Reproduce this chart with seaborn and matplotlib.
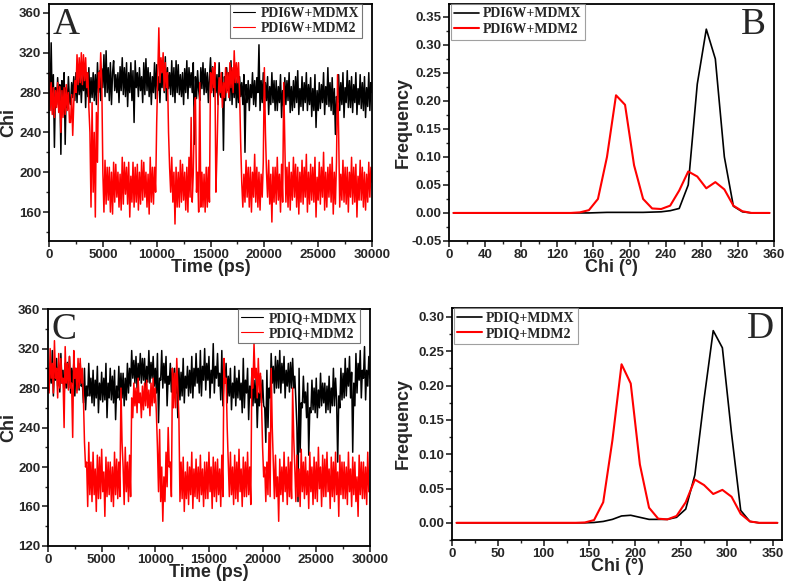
import numpy as np
import pandas as pd
import matplotlib
matplotlib.use("Agg")
import matplotlib.pyplot as plt
import seaborn as sns
from matplotlib.ticker import MultipleLocator

# time axis of the trajectories (ps), one reading every 100 ps
time_ps = np.arange(0, 30001, 100)

# Panel A: PDI6W chi angle traces (one row = 1000 ps)
a_mdmx = [
    290, 275, 330, 262, 298, 225, 285, 268, 295, 272,
    288, 218, 292, 270, 300, 228, 285, 265, 296, 272,
    268, 290, 275, 296, 272, 300, 270, 302, 278, 298,
    270, 298, 282, 305, 265, 300, 276, 305, 270, 295,
    275, 300, 272, 298, 268, 310, 280, 302, 272, 304,
    285, 318, 276, 322, 280, 305, 272, 310, 268, 300,
    312, 282, 298, 280, 300, 270, 306, 282, 315, 278,
    305, 276, 310, 266, 300, 280, 310, 272, 302, 250,
    312, 285, 300, 276, 305, 282, 296, 270, 310, 278,
    314, 282, 305, 276, 300, 268, 296, 280, 310, 274,
    308, 282, 296, 270, 300, 285, 310, 280, 316, 272,
    305, 284, 300, 278, 312, 276, 305, 270, 312, 280,
    308, 278, 298, 276, 300, 268, 304, 280, 312, 274,
    305, 285, 300, 280, 310, 228, 296, 274, 302, 282,
    272, 305, 284, 310, 278, 304, 280, 300, 270, 296,
    315, 282, 306, 276, 300, 280, 298, 268, 310, 278,
    275, 300, 222, 296, 272, 305, 282, 300, 272, 312,
    268, 298, 275, 300, 265, 294, 270, 296, 276, 290,
    268, 298, 220, 288, 270, 292, 262, 288, 275, 300,
    268, 292, 266, 295, 280, 328, 262, 292, 270, 300,
    265, 290, 272, 296, 258, 286, 268, 300, 270, 292,
    262, 292, 262, 286, 270, 298, 255, 282, 266, 295,
    268, 292, 272, 300, 260, 286, 262, 292, 265, 296,
    270, 302, 258, 284, 266, 296, 262, 290, 270, 300,
    262, 288, 268, 295, 256, 284, 262, 298, 245, 282,
    262, 290, 264, 288, 270, 300, 258, 286, 268, 305,
    266, 290, 262, 295, 258, 284, 238, 276, 270, 298,
    262, 290, 268, 300, 255, 285, 270, 302, 265, 292,
    265, 296, 260, 288, 270, 300, 258, 284, 268, 298,
    264, 290, 262, 296, 255, 285, 266, 300, 262, 290,
    280,
]
a_mdm2 = [
    300, 262, 290, 258, 285, 255, 282, 265, 290, 260,
    286, 240, 282, 255, 285, 258, 288, 262, 280, 250,
    250, 278, 237, 270, 292, 280, 318, 288, 315, 290,
    320, 288, 318, 292, 315, 285, 300, 265, 240, 165,
    270, 180, 240, 155, 260, 210, 300, 285, 320, 290,
    200, 160, 212, 168, 205, 172, 205, 160, 200, 158,
    210, 170, 208, 175, 200, 165, 198, 162, 215, 168,
    210, 178, 205, 168, 210, 155, 196, 170, 210, 165,
    205, 170, 208, 162, 200, 168, 212, 172, 210, 175,
    200, 165, 198, 158, 215, 170, 205, 168, 205, 180,
    250, 300, 345, 290, 315, 300, 320, 282, 310, 285,
    300, 240, 205, 180, 215, 170, 200, 148, 205, 165,
    200, 165, 212, 170, 208, 172, 200, 162, 205, 160,
    215, 175, 255, 170, 200, 265, 275, 180, 200, 160,
    290, 165, 200, 165, 198, 160, 205, 165, 205, 170,
    300, 280, 305, 285, 310, 180, 220, 270, 295, 280,
    300, 265, 290, 275, 305, 280, 300, 275, 310, 285,
    305, 280, 322, 290, 310, 290, 310, 280, 230, 190,
    165, 198, 170, 212, 175, 205, 165, 205, 160, 200,
    175, 218, 170, 205, 165, 200, 162, 198, 175, 210,
    305, 240, 200, 175, 212, 168, 198, 150, 205, 170,
    205, 168, 215, 172, 198, 160, 208, 170, 290, 230,
    170, 205, 165, 210, 162, 200, 172, 215, 175, 208,
    165, 205, 158, 200, 170, 212, 168, 205, 175, 218,
    160, 200, 168, 208, 172, 205, 170, 215, 155, 195,
    172, 210, 168, 205, 175, 220, 162, 200, 165, 205,
    175, 208, 170, 215, 158, 200, 168, 210, 298, 240,
    165, 198, 172, 212, 170, 205, 168, 205, 160, 200,
    175, 215, 168, 205, 170, 208, 155, 196, 172, 212,
    172, 205, 165, 200, 162, 198, 170, 210, 175, 205,
    190,
]

# Panel C: PDIQ chi angle traces
c_mdmx = [
    300, 278, 305, 285, 318, 272, 300, 288, 310, 282,
    302, 276, 315, 285, 298, 270, 305, 280, 306, 280,
    312, 275, 300, 285, 305, 272, 300, 278, 300, 278,
    305, 282, 285, 265, 300, 258, 282, 272, 305, 272,
    290, 265, 298, 262, 288, 270, 302, 255, 285, 268,
    296, 266, 290, 268, 305, 250, 285, 270, 300, 268,
    292, 265, 298, 248, 282, 270, 302, 268, 295, 270,
    295, 262, 290, 268, 305, 275, 300, 282, 318, 290,
    308, 285, 312, 280, 305, 288, 315, 285, 310, 288,
    310, 278, 302, 286, 318, 285, 306, 290, 312, 282,
    300, 275, 315, 245, 290, 288, 318, 280, 305, 285,
    312, 262, 292, 284, 305, 276, 300, 278, 300, 275,
    285, 250, 300, 268, 296, 272, 310, 265, 292, 280,
    302, 272, 298, 275, 312, 270, 300, 282, 315, 285,
    300, 275, 318, 272, 302, 288, 320, 278, 305, 288,
    312, 270, 298, 285, 325, 275, 302, 290, 315, 282,
    295, 268, 318, 262, 290, 285, 305, 265, 292, 272,
    300, 258, 285, 270, 302, 262, 290, 270, 298, 268,
    285, 255, 310, 260, 288, 275, 300, 248, 282, 270,
    295, 262, 288, 265, 290, 240, 275, 262, 292, 265,
    288, 262, 260, 225, 298, 240, 280, 270, 315, 285,
    302, 275, 312, 280, 308, 280, 318, 275, 305, 285,
    312, 270, 298, 282, 305, 276, 306, 280, 310, 280,
    292, 268, 240, 165, 300, 215, 265, 260, 292, 265,
    276, 250, 285, 212, 260, 255, 288, 258, 280, 255,
    290, 250, 278, 260, 295, 262, 285, 265, 285, 255,
    282, 258, 292, 255, 280, 262, 300, 262, 290, 268,
    205, 272, 260, 300, 268, 295, 270, 310, 272, 300,
    282, 312, 270, 296, 215, 285, 262, 315, 275, 305,
    288, 318, 270, 298, 290, 322, 268, 298, 282, 312,
    290,
]
c_mdm2 = [
    300, 275, 320, 290, 305, 275, 328, 290, 300, 270,
    315, 280, 310, 285, 290, 240, 322, 285, 305, 278,
    312, 280, 285, 230, 318, 290, 300, 275, 310, 280,
    310, 285, 300, 270, 225, 200, 205, 160, 225, 172,
    205, 165, 215, 172, 198, 155, 212, 168, 210, 168,
    218, 175, 195, 150, 210, 170, 205, 172, 205, 165,
    200, 160, 215, 172, 208, 168, 205, 170, 280, 225,
    200, 162, 220, 175, 205, 165, 212, 170, 270, 250,
    285, 262, 280, 255, 290, 265, 275, 250, 282, 258,
    285, 262, 288, 260, 278, 252, 285, 262, 290, 265,
    280, 255, 220, 175, 238, 165, 200, 145, 190, 165,
    215, 180, 240, 200, 205, 170, 300, 260, 295, 260,
    310, 280, 250, 165, 205, 168, 210, 155, 195, 168,
    205, 162, 200, 172, 215, 158, 198, 170, 208, 168,
    200, 165, 212, 172, 198, 160, 205, 168, 205, 168,
    215, 175, 200, 158, 210, 170, 205, 165, 208, 172,
    198, 160, 212, 170, 310, 285, 290, 240, 205, 170,
    215, 172, 200, 162, 212, 168, 205, 165, 218, 175,
    198, 160, 210, 170, 205, 170, 215, 172, 200, 162,
    300, 280, 325, 290, 300, 270, 310, 275, 295, 265,
    220, 190, 200, 165, 205, 172, 235, 170, 300, 240,
    205, 168, 212, 170, 190, 145, 208, 172, 200, 165,
    215, 175, 200, 162, 210, 170, 205, 168, 280, 230,
    200, 165, 212, 170, 198, 160, 218, 175, 205, 168,
    210, 172, 196, 158, 215, 175, 200, 162, 210, 168,
    205, 165, 220, 178, 200, 160, 212, 170, 208, 170,
    215, 175, 198, 158, 210, 170, 205, 165, 215, 172,
    195, 150, 212, 172, 205, 168, 205, 168, 200, 162,
    215, 175, 198, 160, 210, 172, 205, 165, 190, 150,
    212, 172, 205, 168, 205, 168, 200, 162, 215, 175,
    175,
]

# chi histograms, bin centres every 10 degrees (5 ... 355)
chi_bins = np.arange(5, 360, 10)
b_mdmx = [0, 0, 0, 0, 0, 0, 0, 0, 0, 0, 0, 0, 0, 0,
          0.0, 0.0, 0.0005, 0.001, 0.001, 0.001, 0.001, 0.001, 0.0015, 0.002,
          0.004, 0.008, 0.05, 0.23, 0.328, 0.275, 0.10, 0.012, 0.002, 0.0, 0.0, 0.0]
b_mdm2 = [0, 0, 0, 0, 0, 0, 0, 0, 0, 0, 0, 0, 0, 0,
          0.001, 0.005, 0.025, 0.10, 0.21, 0.193, 0.085, 0.025, 0.008, 0.007,
          0.013, 0.040, 0.074, 0.065, 0.044, 0.055, 0.042, 0.013, 0.003, 0.0, 0.0, 0.0]
d_mdmx = [0, 0, 0, 0, 0, 0, 0, 0, 0, 0, 0, 0, 0, 0,
          0.0, 0.0005, 0.002, 0.005, 0.010, 0.011, 0.008, 0.005, 0.005, 0.005,
          0.008, 0.02, 0.07, 0.18, 0.28, 0.255, 0.13, 0.018, 0.002, 0.0, 0.0, 0.0]
d_mdm2 = [0, 0, 0, 0, 0, 0, 0, 0, 0, 0, 0, 0, 0, 0,
          0.0005, 0.004, 0.03, 0.12, 0.231, 0.203, 0.085, 0.022, 0.006, 0.005,
          0.01, 0.03, 0.063, 0.055, 0.042, 0.048, 0.038, 0.013, 0.002, 0.0, 0.0, 0.0]

sns.set_style("ticks")
plt.rcParams['font.family'] = ['Liberation Sans', 'DejaVu Sans']

RED = "#ff0000"
SERIF = ['Liberation Serif', 'DejaVu Serif']

fig = plt.figure(figsize=(7.87, 5.82), dpi=100)
axA = fig.add_axes([0.0623, 0.586, 0.4104, 0.4072])
axB = fig.add_axes([0.5705, 0.586, 0.413, 0.4072])
axC = fig.add_axes([0.061, 0.0619, 0.409, 0.407])
axD = fig.add_axes([0.5743, 0.0722, 0.4193, 0.3986])


def style_axes(ax):
    for s in ax.spines.values():
        s.set_linewidth(1.3)
        s.set_color("black")
    ax.tick_params(which="major", direction="out", length=4, width=1.2,
                   labelsize=9.5, pad=1.5)
    ax.tick_params(which="minor", direction="out", length=2.5, width=1.0)
    for lab in ax.get_xticklabels() + ax.get_yticklabels():
        lab.set_fontweight("bold")


def trace_panel(ax, black, red, lab_black, lab_red, letter, ylim, yticks, ylab_x):
    df = pd.DataFrame({"t": time_ps, "black": black, "red": red})
    sns.lineplot(data=df, x="t", y="black", ax=ax, color="black", lw=1.1,
                 label=lab_black, estimator=None)
    sns.lineplot(data=df, x="t", y="red", ax=ax, color=RED, lw=1.1,
                 label=lab_red, estimator=None)
    ax.set_xlim(0, 30000)
    ax.set_ylim(*ylim)
    ax.set_yticks(yticks)
    ax.xaxis.set_major_locator(MultipleLocator(5000))
    ax.xaxis.set_minor_locator(MultipleLocator(2500))
    ax.yaxis.set_minor_locator(MultipleLocator(20))
    ax.set_xlabel("Time (ps)", fontsize=13, fontweight="bold", labelpad=-1)
    ax.set_ylabel("Chi", fontsize=13, fontweight="bold")
    ax.yaxis.set_label_coords(ylab_x, 0.5)
    leg = ax.legend(loc="upper right", prop={"family": SERIF, "weight": "bold", "size": 10},
                    frameon=True, fancybox=False, handlelength=1.6, handletextpad=0.4,
                    borderpad=0.2, labelspacing=0.15, borderaxespad=0.0,
                    bbox_to_anchor=(0.97, 1.0))
    leg.get_frame().set_edgecolor("#555555")
    leg.get_frame().set_linewidth(0.8)
    for h in leg.get_lines():
        h.set_linewidth(0.8)
    ax.text(0.01, 0.985, letter, transform=ax.transAxes, ha="left", va="top",
            fontsize=27, family=SERIF)
    style_axes(ax)


def hist_panel(ax, black, red, lab_black, lab_red, letter, ylim, yticks, xstep, ylab_x):
    df = pd.DataFrame({"chi": chi_bins, "black": black, "red": red})
    sns.lineplot(data=df, x="chi", y="black", ax=ax, color="black", lw=1.2,
                 label=lab_black, estimator=None)
    sns.lineplot(data=df, x="chi", y="red", ax=ax, color=RED, lw=1.5,
                 label=lab_red, estimator=None)
    ax.set_xlim(0, 360)
    ax.set_ylim(*ylim)
    ax.set_yticks(yticks)
    ax.yaxis.set_major_formatter(plt.FuncFormatter(lambda v, p: f"{v:.2f}"))
    ax.xaxis.set_major_locator(MultipleLocator(xstep))
    ax.xaxis.set_minor_locator(MultipleLocator(xstep / 2))
    ax.yaxis.set_minor_locator(MultipleLocator(0.025))
    ax.set_xlabel("Chi (°)", fontsize=13, fontweight="bold", labelpad=-1)
    ax.set_ylabel("Frequency", fontsize=13, fontweight="bold")
    ax.yaxis.set_label_coords(ylab_x, 0.5)
    leg = ax.legend(loc="upper left", prop={"family": SERIF, "weight": "bold", "size": 10},
                    frameon=True, fancybox=False, handlelength=1.8, handletextpad=0.3,
                    borderpad=0.25, labelspacing=0.2, borderaxespad=0.0,
                    bbox_to_anchor=(0.005, 1.0))
    leg.get_frame().set_edgecolor("#888888")
    leg.get_frame().set_linewidth(0.8)
    ax.text(0.975, 0.985, letter, transform=ax.transAxes, ha="right", va="top",
            fontsize=27, family=SERIF)
    style_axes(ax)


trace_panel(axA, a_mdmx, a_mdm2, "PDI6W+MDMX", "PDI6W+MDM2", "A",
            (131, 369), [160, 200, 240, 280, 320, 360], -0.099)
trace_panel(axC, c_mdmx, c_mdm2, "PDIQ+MDMX", "PDIQ+MDM2", "C",
            (120, 360), [120, 160, 200, 240, 280, 320, 360], -0.096)
hist_panel(axB, b_mdmx, b_mdm2, "PDI6W+MDMX", "PDI6W+MDM2", "B",
           (-0.05, 0.373), np.arange(-0.05, 0.36, 0.05), 40, -0.114)
hist_panel(axD, d_mdmx, d_mdm2, "PDIQ+MDMX", "PDIQ+MDM2", "D",
           (-0.025, 0.313), np.arange(0.0, 0.31, 0.05), 50, -0.121)

fig.savefig("out.png", dpi=100)
